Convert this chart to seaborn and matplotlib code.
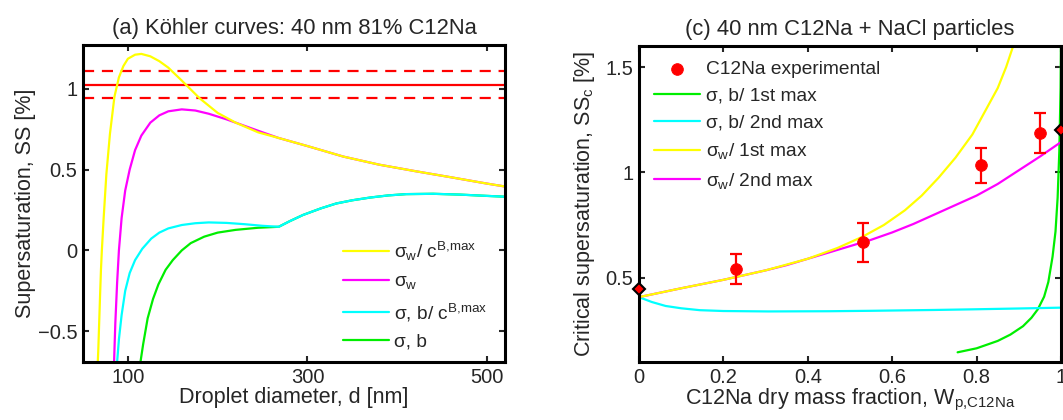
import seaborn as sns
import matplotlib.pyplot as plt
import numpy as np

# (a) Koehler curves, droplet diameter [nm] vs supersaturation [%]
d_sw_cb = [66, 67, 68, 69, 70, 71, 73, 76, 80, 85, 90, 95, 100, 108, 115, 125, 135,
           145, 160, 180, 200, 220, 245, 268, 300, 340, 380, 420, 460, 500, 520]
ss_sw_cb = [-0.75, -0.62, -0.45, -0.28, -0.12, 0.0, 0.2, 0.47, 0.72, 0.95, 1.07, 1.14,
            1.185, 1.21, 1.215, 1.2, 1.17, 1.13, 1.05, 0.94, 0.85, 0.79, 0.73, 0.695,
            0.645, 0.58, 0.53, 0.49, 0.452, 0.413, 0.395]

d_sw = [84, 85, 86, 88, 90, 93, 97, 102, 108, 115, 125, 135, 145, 160, 175, 190, 210,
        230, 250, 268, 300, 340, 380, 420, 460, 500, 520]
ss_sw = [-0.8, -0.62, -0.45, -0.2, 0.0, 0.2, 0.37, 0.5, 0.62, 0.71, 0.79, 0.835, 0.86,
         0.872, 0.865, 0.845, 0.81, 0.77, 0.73, 0.695, 0.645, 0.58, 0.53, 0.49, 0.452,
         0.413, 0.395]

d_sb_cb = [87, 88, 90, 93, 97, 102, 108, 116, 126, 135, 145, 160, 175, 190, 210, 230,
           250, 268, 280, 295, 315, 332, 350, 370, 390, 410, 440, 470, 500, 520]
ss_sb_cb = [-0.8, -0.69, -0.55, -0.4, -0.25, -0.14, -0.06, 0.01, 0.073, 0.11, 0.136,
            0.157, 0.168, 0.173, 0.17, 0.162, 0.152, 0.146, 0.18, 0.219, 0.26, 0.29,
            0.31, 0.327, 0.34, 0.348, 0.35, 0.345, 0.337, 0.332]

d_sb = [113, 114, 117, 122, 128, 134, 142, 150, 160, 170, 185, 200, 220, 245, 268]
ss_sb = [-0.8, -0.69, -0.58, -0.42, -0.3, -0.21, -0.12, -0.06, 0.0, 0.045, 0.085,
         0.11, 0.127, 0.14, 0.146]

ss_exp_mean = 1.025
ss_exp_dev = 0.083

# (c) critical supersaturation vs C12Na dry mass fraction
w_exp = [0.23, 0.53, 0.81, 0.95]
ssc_exp = [0.542, 0.668, 1.034, 1.187]
ssc_err = [0.073, 0.093, 0.083, 0.095]
w_pure = [0.0, 1.0]
ssc_pure = [0.448, 1.2]

w_sw1 = [0.0, 0.1, 0.2, 0.3, 0.4, 0.47, 0.53, 0.58, 0.63, 0.67, 0.71, 0.75, 0.79,
         0.82, 0.85, 0.87, 0.89]
ssc_sw1 = [0.408, 0.45, 0.49, 0.535, 0.59, 0.641, 0.695, 0.75, 0.82, 0.89, 0.975,
           1.07, 1.18, 1.29, 1.4, 1.5, 1.62]

w_sw2 = [0.0, 0.1, 0.2, 0.3, 0.35, 0.4, 0.45, 0.5, 0.55, 0.6, 0.65, 0.7, 0.75, 0.8,
         0.85, 0.9, 0.95, 1.0]
ssc_sw2 = [0.408, 0.45, 0.49, 0.535, 0.56, 0.59, 0.62, 0.65, 0.68, 0.715, 0.755, 0.8,
           0.845, 0.89, 0.945, 1.01, 1.075, 1.144]

w_sb2 = [0.0, 0.03, 0.063, 0.1, 0.144, 0.2, 0.306, 0.45, 0.548, 0.7, 0.791, 0.9, 1.0]
ssc_sb2 = [0.408, 0.385, 0.366, 0.355, 0.346, 0.342, 0.34, 0.341, 0.343, 0.347, 0.35,
           0.354, 0.358]

w_sb1 = [0.755, 0.8, 0.85, 0.88, 0.91, 0.93, 0.945, 0.96, 0.97, 0.98, 0.987, 0.992,
         0.996, 0.999, 1.0]
ssc_sb1 = [0.146, 0.165, 0.2, 0.23, 0.27, 0.31, 0.35, 0.41, 0.48, 0.6, 0.72, 0.88,
           1.1, 1.4, 1.65]

YEL, MAG, CYA, GRN = "#ffff00", "#ff00ff", "#00ffff", "#00ee00"

sns.set_style("white")
plt.rcParams["font.family"] = ["Liberation Sans", "DejaVu Sans"]
plt.rcParams["mathtext.fontset"] = "custom"
plt.rcParams["mathtext.rm"] = "Liberation Sans"
plt.rcParams["mathtext.it"] = "Liberation Sans"
plt.rcParams["mathtext.bf"] = "Liberation Sans:bold"

fig = plt.figure(figsize=(10.63, 4.2), dpi=100)
ax1 = fig.add_axes([83 / 1063, 58 / 420, 422 / 1063, 317 / 420])
ax2 = fig.add_axes([639 / 1063, 58 / 420, 422 / 1063, 316 / 420])

lw = 1.6
leg_fs = 13.8
# left panel
ax1.axhline(ss_exp_mean, color="red", lw=1.6)
ax1.axhline(ss_exp_mean + ss_exp_dev, color="red", lw=1.6, ls=(0, (5, 3.5)))
ax1.axhline(ss_exp_mean - ss_exp_dev, color="red", lw=1.6, ls=(0, (5, 3.5)))

sns.lineplot(x=d_sb + d_sb_cb[18:], y=ss_sb + ss_sb_cb[18:], sort=False, estimator=None,
             color=GRN, lw=lw, ax=ax1, label="σ, b")
sns.lineplot(x=d_sb_cb, y=ss_sb_cb, sort=False, estimator=None,
             color=CYA, lw=lw, ax=ax1, label="σ, b/ c$^{B{,}max}$")
sns.lineplot(x=d_sw, y=ss_sw, sort=False, estimator=None,
             color=MAG, lw=lw, ax=ax1, label="σ$_w$")
sns.lineplot(x=d_sw_cb, y=ss_sw_cb, sort=False, estimator=None,
             color=YEL, lw=lw, ax=ax1, label="σ$_w$/ c$^{B{,}max}$")

h, l = ax1.get_legend_handles_labels()
ax1.legend(h[::-1], l[::-1], loc="upper left", bbox_to_anchor=(0.615, 0.385),
           frameon=False, fontsize=leg_fs, handlelength=2.4, handletextpad=0.3,
           labelspacing=0.52, borderpad=0, borderaxespad=0)

ax1.set_xlim(50, 520)
ax1.set_ylim(-0.69, 1.27)
ax1.set_xticks([100, 300, 500])
ax1.set_yticks([-0.5, 0, 0.5, 1])
ax1.set_yticklabels(["\u22120.5", "0", "0.5", "1"])
ax1.set_title("(a) Köhler curves: 40 nm 81% C12Na", fontsize=15.8, pad=8)
ax1.set_xlabel("Droplet diameter, d [nm]", fontsize=15.5, labelpad=0)
ax1.set_ylabel("Supersaturation, SS [%]", fontsize=15.5, labelpad=1)

# right panel
ax2.errorbar(w_exp, ssc_exp, yerr=ssc_err, fmt="none", ecolor="red", elinewidth=1.6,
             capsize=4, capthick=1.6, zorder=4)
sns.scatterplot(x=w_exp, y=ssc_exp, color="red", s=70, edgecolor="red", ax=ax2,
                label="C12Na experimental", zorder=5)
sns.lineplot(x=w_sb1, y=ssc_sb1, sort=False, estimator=None, color=GRN, lw=lw, ax=ax2,
             label="σ, b/ 1st max")
sns.lineplot(x=w_sb2, y=ssc_sb2, sort=False, estimator=None, color=CYA, lw=lw, ax=ax2,
             label="σ, b/ 2nd max")
sns.lineplot(x=w_sw2, y=ssc_sw2, sort=False, estimator=None, color=MAG, lw=lw, ax=ax2,
             label="σ$_w$/ 2nd max")
sns.lineplot(x=w_sw1, y=ssc_sw1, sort=False, estimator=None, color=YEL, lw=lw, ax=ax2,
             label="σ$_w$/ 1st max")
ax2.plot(w_pure, ssc_pure, ls="none", marker="D", ms=6, mfc="red", mec="black",
         mew=1.5, clip_on=False, zorder=6)

h, l = ax2.get_legend_handles_labels()
order = [0, 1, 2, 4, 3]
ax2.legend([h[i] for i in order], [l[i] for i in order], loc="upper left",
           bbox_to_anchor=(0.035, 0.955), frameon=False, fontsize=leg_fs,
           handlelength=2.4, handletextpad=0.3, labelspacing=0.5,
           borderpad=0, borderaxespad=0)

ax2.set_xlim(0, 1)
ax2.set_ylim(0.1, 1.6)
ax2.set_xticks([0, 0.2, 0.4, 0.6, 0.8, 1])
ax2.set_xticklabels(["0", "0.2", "0.4", "0.6", "0.8", "1"])
ax2.set_yticks([0.5, 1, 1.5])
ax2.set_yticklabels(["0.5", "1", "1.5"])
ax2.set_title("(c) 40 nm C12Na + NaCl particles", fontsize=15.8, pad=8)
ax2.set_xlabel("C12Na dry mass fraction, W$_{p{,}C12Na}$", fontsize=15.5, labelpad=0)
ax2.set_ylabel("Critical supersaturation, SS$_c$ [%]", fontsize=15.5, labelpad=6)

for ax in (ax1, ax2):
    for sp in ax.spines.values():
        sp.set_visible(True)
        sp.set_color("black")
        sp.set_linewidth(2.2)
    ax.tick_params(axis="both", direction="in", length=4, width=1.5, labelsize=14.5,
                   top=True, right=True, bottom=True, left=True, pad=4)

fig.savefig("out.png", dpi=100)
